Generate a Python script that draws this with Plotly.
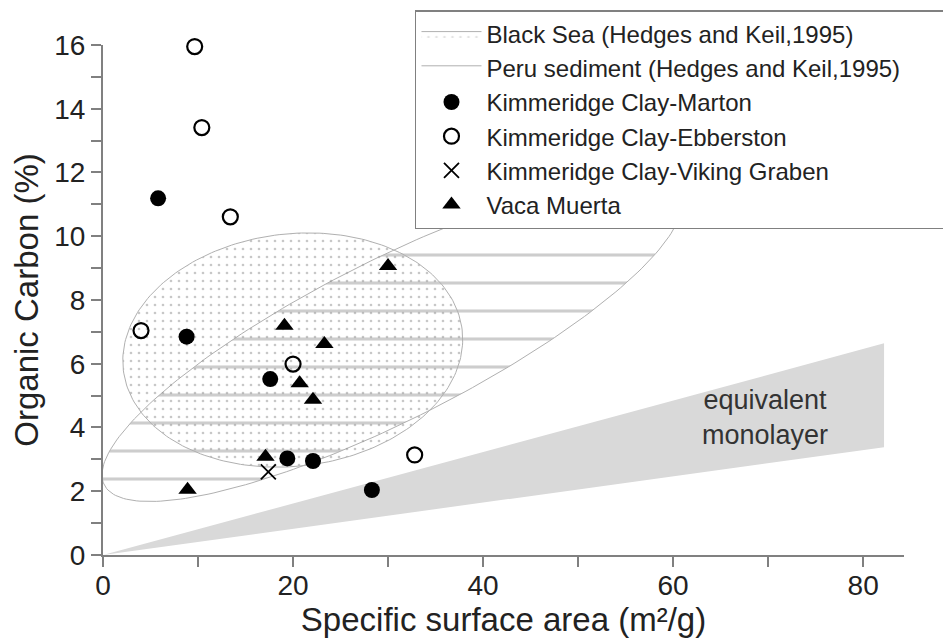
import numpy as np
import plotly.graph_objects as go

# ---- data ----
marton_x = [5.8, 8.8, 17.6, 19.4, 22.1, 28.3]
marton_y = [11.19, 6.85, 5.52, 3.03, 2.95, 2.04]

ebb_x = [9.65, 10.4, 13.4, 4.0, 20.0, 32.8]
ebb_y = [15.95, 13.41, 10.61, 7.04, 5.99, 3.14]

viking_x = [17.4]
viking_y = [2.61]

vaca_x = [30.0, 19.1, 23.3, 20.7, 22.1, 17.1, 8.9]
vaca_y = [9.07, 7.19, 6.62, 5.39, 4.87, 3.08, 2.05]

# literature fields as ellipses: centre, semi-major vector, semi-minor vector (data units)
black_sea_centre = [19.97, 6.43]
black_sea_major = [17.83, 0.63]
black_sea_minor = [1.43, -3.62]

peru_centre = [30.39, 6.75]
peru_major = [30.26, 4.55]
peru_minor = [3.80, -2.24]

# equivalent monolayer wedge
mono_x = [0, 82.2, 82.2]
mono_y = [0, 6.64, 3.38]

x_ticks = [0, 20, 40, 60, 80]
y_ticks = [0, 2, 4, 6, 8, 10, 12, 14, 16]

FONT = "Liberation Sans, Arial, sans-serif"
PAD = "\u00a0" * 6  # widens the legend box to the reference width


def ellipse(c, a, b, n=241):
    t = np.linspace(0, 2 * np.pi, n)
    return (c[0] + a[0] * np.cos(t) + b[0] * np.sin(t),
            c[1] + a[1] * np.cos(t) + b[1] * np.sin(t))


fig = go.Figure()

fig.add_trace(go.Scatter(x=mono_x + [mono_x[0]], y=mono_y + [mono_y[0]], mode="lines",
                         fill="toself", fillcolor="#d9d9d9", line=dict(width=0),
                         showlegend=False, hoverinfo="skip"))

px_, py_ = ellipse(peru_centre, peru_major, peru_minor)
fig.add_trace(go.Scatter(x=px_, y=py_, mode="lines", fill="toself",
                         name="Peru sediment (Hedges and Keil,1995)" + PAD,
                         line=dict(color="#b0b0b0", width=1),
                         fillcolor="rgba(0,0,0,0)",
                         fillpattern=dict(shape="-", fgcolor="#9c9c9c", bgcolor="rgba(0,0,0,0)",
                                          size=28, solidity=0.11),
                         legendrank=2, legendgroup="g2"))

bx_, by_ = ellipse(black_sea_centre, black_sea_major, black_sea_minor)
fig.add_trace(go.Scatter(x=bx_, y=by_, mode="lines", fill="toself",
                         name="Black Sea (Hedges and Keil,1995)",
                         line=dict(color="#b0b0b0", width=1),
                         fillcolor="rgba(0,0,0,0)",
                         fillpattern=dict(shape=".", fgcolor="#8f8f8f", bgcolor="rgba(0,0,0,0)",
                                          size=8, solidity=0.09),
                         legendrank=1, legendgroup="g1"))

fig.add_trace(go.Scatter(x=marton_x, y=marton_y, mode="markers", name="Kimmeridge Clay-Marton",
                         marker=dict(symbol="circle", size=16, color="black"),
                         cliponaxis=False, legendrank=3, legendgroup="g3"))
fig.add_trace(go.Scatter(x=ebb_x, y=ebb_y, mode="markers", name="Kimmeridge Clay-Ebberston",
                         marker=dict(symbol="circle-open", size=15, color="black",
                                     line=dict(width=2.2, color="black")),
                         cliponaxis=False, legendrank=4, legendgroup="g4"))
fig.add_trace(go.Scatter(x=viking_x, y=viking_y, mode="markers",
                         name="Kimmeridge Clay-Viking Graben",
                         marker=dict(symbol="x-thin-open", size=15, color="black",
                                     line=dict(width=1.8, color="black")),
                         cliponaxis=False, legendrank=5, legendgroup="g5"))
fig.add_trace(go.Scatter(x=vaca_x, y=vaca_y, mode="markers", name="Vaca Muerta",
                         marker=dict(symbol="triangle-up", size=16, color="black"),
                         cliponaxis=False, legendrank=6, legendgroup="g6"))

fig.add_annotation(x=69.7, y=4.32, text="equivalent<br>monolayer", showarrow=False,
                   font=dict(family=FONT, size=27, color="#333333"), align="center")

axis_common = dict(showline=True, linecolor="#808080", linewidth=2, ticks="outside",
                   ticklen=10, tickwidth=2, tickcolor="#808080", showgrid=False,
                   zeroline=False, automargin=False,
                   tickfont=dict(family=FONT, size=28, color="#222222"))

fig.update_xaxes(range=[0, 84.3], tickvals=x_ticks, ticklabelstandoff=-6,
                 minor=dict(dtick=10, ticks="outside", ticklen=10, tickwidth=2,
                            tickcolor="#808080", showgrid=False),
                 title=dict(text="Specific surface area (m²/g)",
                            font=dict(family=FONT, size=33, color="#222222"), standoff=0),
                 **axis_common)
fig.update_yaxes(range=[0, 16], tickvals=y_ticks, domain=[0, 0.9358],
                 minor=dict(dtick=1, ticks="outside", ticklen=10, tickwidth=2,
                            tickcolor="#808080", showgrid=False),
                 title=dict(text="Organic Carbon (%)",
                            font=dict(family=FONT, size=33, color="#222222"), standoff=6),
                 **axis_common)

# page body has an 8px margin, so the figure is sized to fit inside the 951x643 window
fig.update_layout(
    width=943, height=635,
    margin=dict(l=95, r=47, t=2, b=88),
    paper_bgcolor="white", plot_bgcolor="white",
    font=dict(family=FONT, color="#222222"),
    legend=dict(x=0.3895, y=1.0, xanchor="left", yanchor="top",
                bgcolor="white", bordercolor="#808080", borderwidth=1.5,
                font=dict(family=FONT, size=24, color="#222222"),
                tracegroupgap=0, traceorder="normal", itemwidth=60),
)

fig.write_html("out.html")
